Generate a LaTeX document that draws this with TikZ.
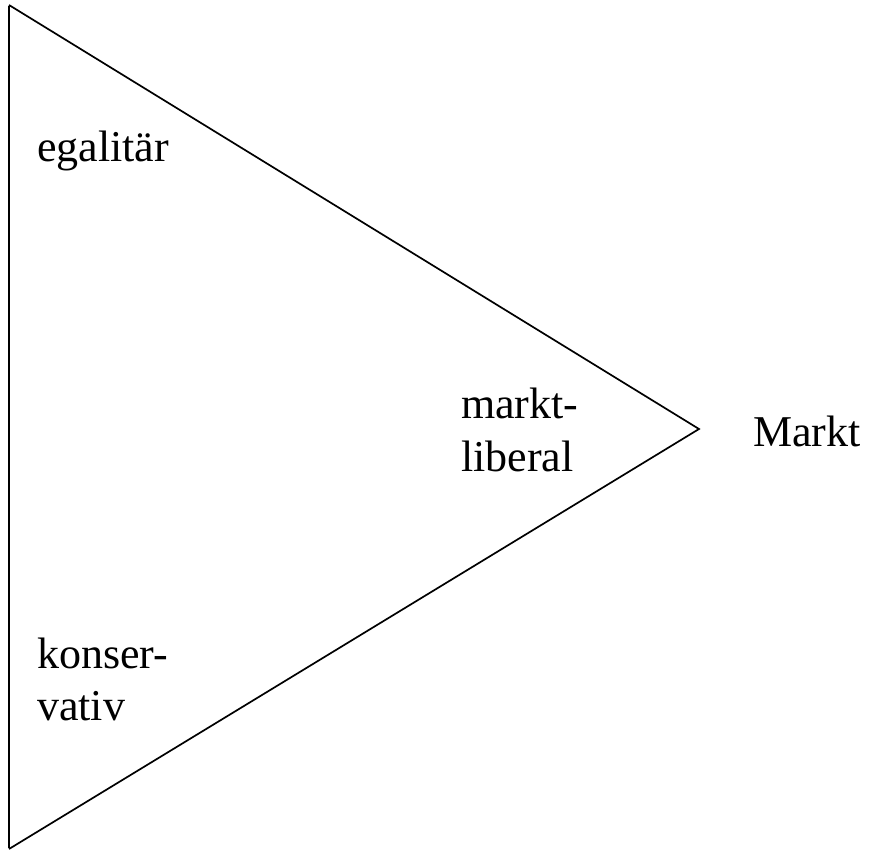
\documentclass[tikz,border=0pt]{standalone}
\usepackage{fontspec}
\setmainfont{Liberation Serif}
\begin{document}
\begin{tikzpicture}[x=1pt,y=-1pt,
  lbl/.style={anchor=base west,inner sep=0pt,font=\fontsize{44}{52}\selectfont,align=left},
  edge/.style={draw=black,line width=1.7pt},
  side/.style={draw=black,line width=2.8pt}]
\useasboundingbox (0,0) rectangle (873,851);
\coordinate (t) at (9,5);
\coordinate (b) at (9,849);
\coordinate (a) at (699,429);
\draw[edge,line join=miter] (t) -- (a) -- (b);
\draw[side,line cap=butt] ([yshift=-0.8pt]t) -- ([yshift=0.8pt]b);
\node[lbl] (eg) at (37,161) {egalitär};
\node[lbl] (m1) at (461,418) {markt-};
\node[lbl] (m2) at (461,471) {liberal};
\node[lbl] (mk) at (753,446) {Markt};
\node[lbl] (k1) at (37,668) {konser-};
\node[lbl] (k2) at (37,720) {vativ};
\end{tikzpicture}
\end{document}
